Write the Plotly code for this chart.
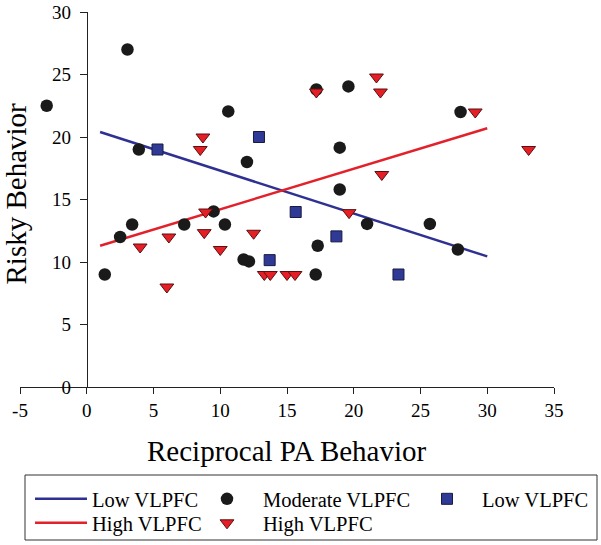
import plotly.graph_objects as go

# ---- data ----
mod_x = [-3.0, 3.05, 3.9, 10.6, 12.0, 17.2, 19.6, 28.0, 18.95, 18.95, 1.35, 2.5,
         3.4, 7.3, 9.5, 10.35, 11.75, 12.15, 21.0, 25.7, 27.8, 17.3, 17.15]
mod_y = [22.5, 27.0, 19.0, 22.05, 18.0, 23.8, 24.05, 22.0, 19.15, 15.8, 9.0, 12.0,
         13.0, 13.0, 14.05, 13.0, 10.2, 10.05, 13.05, 13.05, 11.0, 11.3, 9.0]

low_x = [5.3, 12.9, 15.65, 13.7, 18.7, 23.35]
low_y = [19.0, 20.0, 14.0, 10.15, 12.05, 9.0]

high_x = [8.7, 8.5, 17.2, 21.7, 22.0, 29.1, 33.1, 22.1, 4.0, 6.0, 6.15, 8.8,
          8.9, 10.0, 12.5, 13.3, 13.75, 15.0, 15.6, 19.65]
high_y = [20.0, 19.0, 23.6, 24.8, 23.6, 22.0, 19.0, 17.0, 11.2, 8.0, 12.0, 12.35,
          14.0, 11.0, 12.3, 9.0, 9.0, 9.0, 9.0, 13.95]

fit_x = [1.0, 30.0]
fit_low_y = [20.4, 10.45]
fit_high_y = [11.3, 20.7]

x_ticks = [-5, 0, 5, 10, 15, 20, 25, 30, 35]
y_ticks = [0, 5, 10, 15, 20, 25, 30]

FONT = "Liberation Serif"
BLUE = "#2E3192"
RED = "#E3212B"

fig = go.Figure()
fig.add_trace(go.Scatter(x=fit_x, y=fit_low_y, mode="lines", name="Low VLPFC",
                         line=dict(color=BLUE, width=2.5), legend="legend", showlegend=True))
fig.add_trace(go.Scatter(x=fit_x, y=fit_high_y, mode="lines", name="High VLPFC",
                         line=dict(color=RED, width=2.5), legend="legend4", showlegend=True))
fig.add_trace(go.Scatter(x=mod_x, y=mod_y, mode="markers", name="Moderate VLPFC",
                         marker=dict(symbol="circle", size=12.5, color="#1A1A1A",
                                     line=dict(width=0)), legend="legend2", showlegend=True))
fig.add_trace(go.Scatter(x=low_x, y=low_y, mode="markers", name="Low VLPFC",
                         marker=dict(symbol="square", size=11, color="#2E3A96",
                                     line=dict(width=1, color="#1A1A40")), legend="legend3",
                         showlegend=True))
fig.add_trace(go.Scatter(x=high_x, y=high_y, mode="markers", name="High VLPFC",
                         marker=dict(symbol="triangle-down", size=12, color="#E61E26",
                                     line=dict(width=1, color="#5A1010")), legend="legend5",
                         showlegend=True))

L, R, T, B = 20, 47, 12, 158
W, H = 601, 545
PW = W - L - R
PH = H - T - B


def px_x(p):
    return (p - L) / PW


def px_y(p):
    return (H - B - p) / PH


def leg(xpx, ypx, iw):
    return dict(x=xpx / W, y=1 - ypx / H, xref="container", yref="container",
                xanchor="left", yanchor="middle",
                bgcolor="rgba(0,0,0,0)", borderwidth=0, itemwidth=iw, visible=True,
                font=dict(family=FONT, size=20.5, color="black"))


fig.update_layout(
    width=W, height=H,
    showlegend=True,
    margin=dict(l=L, r=R, t=T, b=B, pad=0, autoexpand=False),
    paper_bgcolor="white", plot_bgcolor="white",
    font=dict(family=FONT, color="black"),
    xaxis=dict(range=[-5, 35], tickvals=x_ticks, ticktext=[str(v) for v in x_ticks],
               showgrid=False, zeroline=False, showline=True, linecolor="#222",
               linewidth=1, ticks="outside", ticklen=6, tickcolor="#222", automargin=False,
               tickfont=dict(family=FONT, size=19, color="black")),
    yaxis=dict(range=[0, 30], tickvals=y_ticks, ticktext=[str(v) for v in y_ticks],
               anchor="free", position=0.125, ticklabelstandoff=5, automargin=False,
               showgrid=False, zeroline=False, showline=True, linecolor="#222",
               linewidth=1, ticks="outside", ticklen=7, tickcolor="#222",
               tickfont=dict(family=FONT, size=19, color="black")),
    legend=leg(30, 499, 52),
    legend2=leg(191, 499, 62),
    legend3=leg(412, 499, 60),
    legend4=leg(30, 523, 52),
    legend5=leg(191, 523, 62),
    shapes=[dict(type="rect", xref="paper", yref="paper",
                 x0=px_x(25), x1=px_x(597), y0=px_y(540), y1=px_y(475),
                 line=dict(color="#333", width=1), fillcolor="rgba(0,0,0,0)")],
    annotations=[
        dict(text="Reciprocal PA Behavior", xref="paper", yref="paper",
             x=0.5, y=px_y(451), xanchor="center", yanchor="middle", showarrow=False,
             font=dict(family=FONT, size=29, color="black")),
        dict(text="Risky Behavior", xref="paper", yref="paper", textangle=-90,
             x=px_x(15), y=px_y(193.5), xanchor="center", yanchor="middle", showarrow=False,
             font=dict(family=FONT, size=29, color="black")),
    ],
)

fig.write_html("out.html", config={"displayModeBar": False},
               post_script="document.body.style.margin='0';document.body.style.overflow='hidden';")
